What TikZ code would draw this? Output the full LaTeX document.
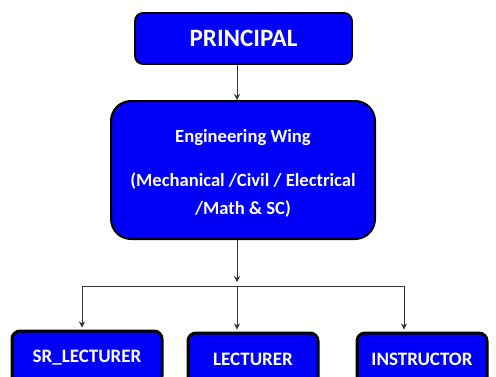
\documentclass[tikz,border=0pt]{standalone}
\usepackage{fontspec}
\setmainfont{Carlito}
\usetikzlibrary{arrows.meta}
\definecolor{boxblue}{RGB}{0,0,250}

\begin{document}
\begin{tikzpicture}[x=1pt, y=1pt,
    box/.style={draw=black, fill=boxblue, rounded corners=8pt, text=white, inner sep=0pt},
    lowbox/.style={box, line width=3pt, minimum width=130pt, minimum height=52pt, font=\fontsize{19}{21}\selectfont\bfseries},
    wire/.style={draw=black!80, line width=0.8pt},
    link/.style={wire, arrows={-Stealth[width=6pt, length=6pt]}}]
    \path[use as bounding box, clip] (0, 0) rectangle (496, 376);
    \node[box, line width=1.8pt, minimum width=217pt, minimum height=51pt, font=\fontsize{25}{30}\selectfont\bfseries] (prin) at (243.5, 337.5) {PRINCIPAL};
    \node[box, rounded corners=20pt, line width=2pt, minimum width=264pt, minimum height=138pt] (eng) at (243, 206) {};
    \node[text=white, align=center, font=\fontsize{18.6}{28}\selectfont\bfseries] (engtext) at ([yshift=-3pt]eng.center) {Engineering Wing\\[16pt](Mechanical /Civil / Electrical\\/Math \& SC)};
    \node[lowbox, minimum width=150pt, minimum height=53pt] (srlec) at (87, 18.5) {SR\_LECTURER};
    \node[lowbox] (lec) at (253, 17) {LECTURER};
    \node[lowbox] (instr) at (422, 17) {INSTRUCTOR};
    \coordinate (trunk) at (237, 90);
    \coordinate (left) at (82, 90);
    \coordinate (right) at (404, 90);
    \draw[link] (prin.south -| trunk) -- (eng.north -| trunk);
    \draw[link] (eng.south -| trunk) -- ([yshift=4pt]trunk);
    \draw[wire] (left) -- (right);
    \draw[link, shorten >=2pt] (left) -- (srlec.north -| left);
    \draw[link, shorten >=2pt] (trunk) -- (lec.north -| trunk);
    \draw[link, shorten >=2pt] (right) -- (instr.north -| right);
\end{tikzpicture}
\end{document}
